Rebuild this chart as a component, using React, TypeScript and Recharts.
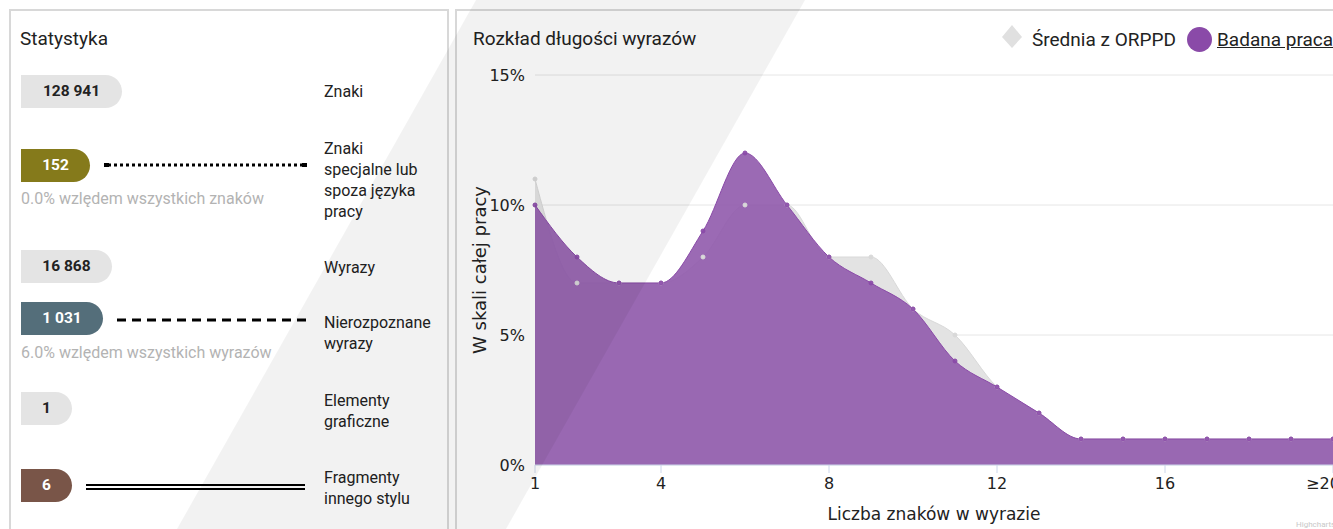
import { AreaChart, Area, XAxis, YAxis, CartesianGrid, Label } from 'recharts'

// word length categories (20 = "20 and more")
const wordLengths = [1, 2, 3, 4, 5, 6, 7, 8, 9, 10, 11, 12, 13, 14, 15, 16, 17, 18, 19, 20]
const corpusAverage = [11, 7, 7, 7, 8, 10, 10, 8, 8, 6, 5, 3, 2, 1, 1, 1, 1, 1, 1, 1]
const thisWork = [10, 8, 7, 7, 9, 12, 10, 8, 7, 6, 4, 3, 2, 1, 1, 1, 1, 1, 1, 1]
const xTicks = [1, 4, 8, 12, 16, 20]
const yTicks = [0, 5, 10, 15]

const statValues = ['128 941', '152', '16 868', '1 031', '1', '6']
const statLabels = [
  ['Znaki'],
  ['Znaki', 'specjalne lub', 'spoza języka', 'pracy'],
  ['Wyrazy'],
  ['Nierozpoznane', 'wyrazy'],
  ['Elementy', 'graficzne'],
  ['Fragmenty', 'innego stylu'],
]
const statNotes = ['', '0.0% wzlędem wszystkich znaków', '', '6.0% wzlędem wszystkich wyrazów', '', '']

const chartData = wordLengths.map((len, i) => ({
  len,
  avg: corpusAverage[i],
  work: thisWork[i],
}))

const pillStyles = [
  { top: 75, width: 101, bg: '#e4e4e4', color: '#222' },
  { top: 149, width: 69, bg: '#857a1b', color: '#fff' },
  { top: 250, width: 91, bg: '#e4e4e4', color: '#222' },
  { top: 302, width: 82, bg: '#546e7a', color: '#fff' },
  { top: 392, width: 51, bg: '#e4e4e4', color: '#222' },
  { top: 469, width: 51, bg: '#795548', color: '#fff' },
]
const labelTops = [81, 138, 257, 312, 390, 467]
const noteTops = [0, 189, 0, 343, 0, 0]

const PURPLE = '#8a4aa8'
const axisFont = { fill: '#222', fontSize: 16, fontFamily: 'DejaVu Sans' }

function Pill({ i }: { i: number }) {
  const p = pillStyles[i]
  return (
    <div
      style={{
        position: 'absolute', left: 21, top: p.top, width: p.width, height: 33,
        background: p.bg, color: p.color, borderRadius: '0 17px 17px 0',
        fontSize: 15.5, fontWeight: 700, lineHeight: '33px', textAlign: 'center',
      }}
    >
      {statValues[i]}
    </div>
  )
}

function StatsPanel() {
  return (
    <div>
      <div style={{ position: 'absolute', left: 9, top: 9, width: 436, height: 540, border: '2px solid #d8d8d8' }} />
      <div style={{ position: 'absolute', left: 20, top: 28, fontSize: 19, lineHeight: '22px', color: '#222' }}>Statystyka</div>
      {statValues.map((_, i) => <Pill key={i} i={i} />)}
      {statNotes.map((n, i) => n && (
        <div key={i} style={{ position: 'absolute', left: 21, top: noteTops[i], fontSize: 16, lineHeight: '20px', color: '#b3b3b3', whiteSpace: 'nowrap' }}>{n}</div>
      ))}
      {statLabels.map((lines, i) => (
        <div key={i} style={{ position: 'absolute', left: 324, top: labelTops[i], fontSize: 16, lineHeight: '21px', color: '#222', whiteSpace: 'nowrap' }}>
          {lines.map((l, j) => <div key={j}>{l}</div>)}
        </div>
      ))}
      <svg style={{ position: 'absolute', left: 0, top: 0 }} width={450} height={529}>
        <line x1={108} y1={165} x2={304} y2={165} stroke="#000" strokeWidth={3} strokeDasharray="3 3" />
        <rect x={104} y={163} width={5} height={4} fill="#000" />
        <rect x={302} y={163} width={5} height={4} fill="#000" />
        <line x1={117} y1={320} x2={307} y2={320} stroke="#000" strokeWidth={3} strokeDasharray="9 6" />
        <line x1={86} y1={485} x2={305} y2={485} stroke="#000" strokeWidth={2} />
        <line x1={86} y1={489} x2={305} y2={489} stroke="#000" strokeWidth={2} />
      </svg>
    </div>
  )
}

function ChartLegend() {
  return (
    <div style={{ position: 'absolute', left: 1000, top: 27, height: 26, fontSize: 19, color: '#222', whiteSpace: 'nowrap' }}>
      <svg style={{ position: 'absolute', left: 0, top: -2 }} width={24} height={26}>
        <polygon points="12,0 22,12 12,23 2,12" fill="#e0e0e0" />
      </svg>
      <div style={{ position: 'absolute', left: 32, top: 0, lineHeight: '25px' }}>Średnia z ORPPD</div>
      <div style={{ position: 'absolute', left: 187, top: 0, width: 25, height: 25, borderRadius: 13, background: PURPLE }} />
      <div style={{ position: 'absolute', left: 217, top: 0, lineHeight: '25px', textDecoration: 'underline' }}>Badana praca</div>
    </div>
  )
}

function YTitle(props: any) {
  const vb = props.viewBox
  const cx = vb.x + 19
  const cy = vb.y + vb.height / 2
  return (
    <text x={cx} y={cy} transform={`rotate(-90 ${cx} ${cy})`} textAnchor="middle" dominantBaseline="central"
      fill="#222" fontSize={18} fontFamily="DejaVu Sans">
      W skali całej pracy
    </text>
  )
}

function XTick(props: any) {
  const { x, y, payload } = props
  const last = payload.value === 20
  return (
    <text x={x + (last ? -10 : 0)} y={y} dy="0.71em" textAnchor="middle" {...axisFont}>
      {last ? '≥20' : String(payload.value)}
    </text>
  )
}

function LengthChart() {
  return (
    <div>
      <div style={{ position: 'absolute', left: 455, top: 9, width: 900, height: 540, border: '2px solid #d8d8d8' }} />
      <div style={{ position: 'absolute', left: 473, top: 28, fontSize: 19, lineHeight: '22px', color: '#222' }}>Rozkład długości wyrazów</div>
      <div style={{ position: 'absolute', left: 460, top: 12 }}>
        <AreaChart width={900} height={517} data={chartData} margin={{ top: 63, right: 27, bottom: 0, left: 0 }}>
          <CartesianGrid vertical={false} stroke="#e6e6e6" />
          <XAxis
            dataKey="len" type="number" domain={[1, 20]} ticks={xTicks}
            height={64} stroke="#ccd6eb" tick={<XTick />} tickSize={8} tickMargin={5}
          >
            <Label value="Liczba znaków w wyrazie" position="insideBottom" offset={9} fill="#222" fontSize={17} fontFamily="DejaVu Sans" />
          </XAxis>
          <YAxis
            width={75} domain={[0, 15]} ticks={yTicks} tickFormatter={(v) => `${v}%`}
            axisLine={false} tickLine={false} tickMargin={4} tick={axisFont}
          >
            <Label content={YTitle} />
          </YAxis>
          <Area dataKey="avg" type="monotone" stroke="#d9d9d9" strokeWidth={1} fill="#e3e3e3" fillOpacity={1}
            dot={{ r: 2, fill: '#d9d9d9', stroke: '#d9d9d9' }} isAnimationActive={false} />
          <Area dataKey="work" type="monotone" stroke={PURPLE} strokeWidth={1} fill="#905aac" fillOpacity={0.9}
            dot={{ r: 2, fill: PURPLE, stroke: PURPLE }} isAnimationActive={false} />
        </AreaChart>
      </div>
      <ChartLegend />
      <div style={{ position: 'absolute', left: 1296, top: 520, fontSize: 8, color: '#c8c8c8', whiteSpace: 'nowrap' }}>Highcharts.com</div>
    </div>
  )
}

export default function App() {
  return (
    <div style={{ position: 'fixed', left: 0, top: 0, width: 1333, height: 529, overflow: 'hidden', background: '#fff', fontFamily: 'Roboto, sans-serif' }}>
      <StatsPanel />
      <LengthChart />
      <svg style={{ position: 'absolute', left: 0, top: 0, pointerEvents: 'none' }} width={1333} height={529}>
        <polygon points="476,0 805,0 506,529 177,529" fill="rgba(0,0,0,0.05)" />
      </svg>
    </div>
  )
}
